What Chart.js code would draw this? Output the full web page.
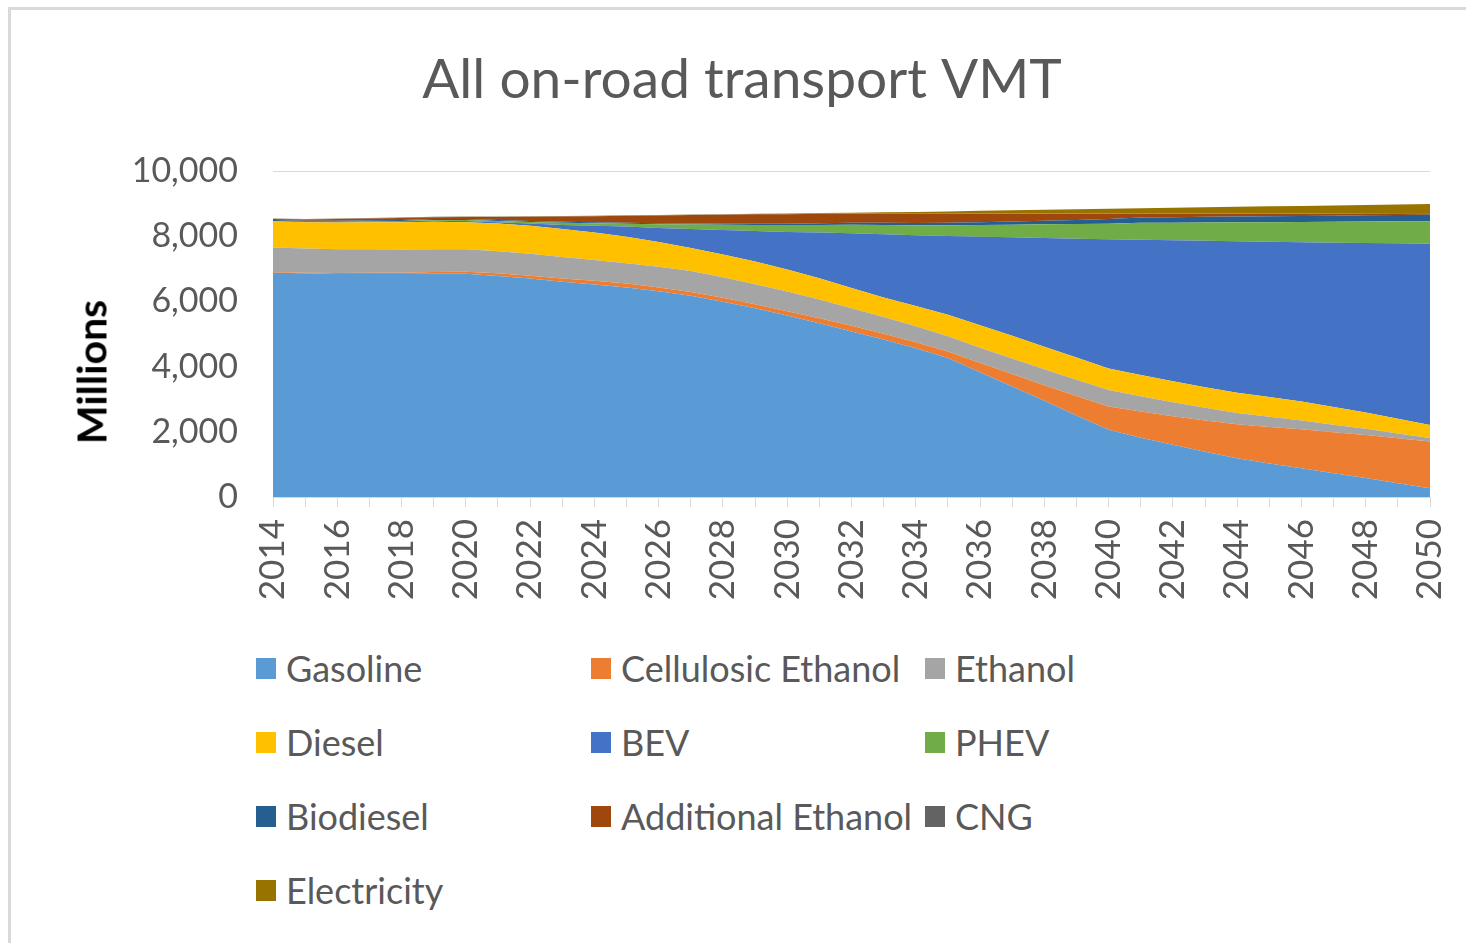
<!DOCTYPE html>
<html lang="en">

<head>
    <meta charset="UTF-8">
    <title>All on-road transport VMT</title>
    <style>
        body {
            margin: 0;
            background-color: #ffffff;
            font-family: Lato, sans-serif;
            width: 1466px;
            height: 943px;
            overflow: hidden;
            position: relative;
        }

        .frame {
            position: absolute;
            left: 8px;
            top: 7px;
            width: 1500px;
            height: 1000px;
            border-top: 3px solid #d9d9d9;
            border-left: 3px solid #d9d9d9;
        }

        .chart-box {
            position: absolute;
            left: 0;
            top: 0;
            width: 1466px;
            height: 620px;
        }

        .y-title {
            position: absolute;
            left: 91px;
            top: 372px;
            transform: translate(-50%, -50%) rotate(-90deg);
            font-size: 41px;
            font-weight: bold;
            color: #000000;
            white-space: nowrap;
        }

        .legend-item {
            position: absolute;
            height: 40px;
            display: flex;
            align-items: center;
            font-size: 36px;
            color: #595959;
            white-space: nowrap;
        }

        .legend-item span.swatch {
            display: inline-block;
            width: 20px;
            height: 21px;
            margin-right: 10px;
        }
    </style>
</head>

<body>
    <div class="frame"></div>
    <div class="chart-box">
        <canvas id="vmtChart"></canvas>
    </div>
    <div class="y-title">Millions</div>
    <div id="legend"></div>

    <script src="https://cdn.jsdelivr.net/npm/chart.js"></script>
    <script>
// years on the x axis
const years = ['2014', '2015', '2016', '2017', '2018', '2019', '2020', '2021', '2022', '2023',
    '2024', '2025', '2026', '2027', '2028', '2029', '2030', '2031', '2032', '2033',
    '2034', '2035', '2036', '2037', '2038', '2039', '2040', '2041', '2042', '2043',
    '2044', '2045', '2046', '2047', '2048', '2049', '2050'];

// VMT, millions
const gasoline = [6880, 6860, 6840, 6840, 6840, 6850, 6850, 6780, 6700, 6600,
    6520, 6430, 6310, 6170, 5990, 5790, 5570, 5330, 5080, 4830,
    4560, 4260, 3830, 3390, 2950, 2500, 2060, 1820, 1600, 1390,
    1190, 1030, 880, 730, 580, 420, 270];
const cellulosicEthanol = [20, 20, 30, 40, 40, 50, 60, 80, 90, 100,
    110, 120, 120, 120, 120, 120, 130, 150, 170, 180,
    190, 200, 280, 380, 480, 600, 715, 800, 880, 960,
    1040, 1120, 1200, 1260, 1320, 1380, 1430];
const ethanol = [750, 740, 730, 720, 710, 700, 690, 680, 670, 660,
    640, 620, 630, 640, 630, 615, 600, 580, 540, 510,
    490, 470, 470, 480, 490, 500, 510, 470, 430, 390,
    350, 310, 270, 230, 190, 150, 110];
const diesel = [800, 810, 820, 830, 840, 845, 830, 850, 860, 860,
    840, 815, 760, 710, 700, 700, 680, 650, 620, 600,
    620, 660, 690, 700, 690, 680, 660, 650, 640, 630,
    620, 610, 580, 540, 500, 450, 400];
const bev = [10, 10, 15, 20, 25, 30, 40, 40, 70, 120,
    210, 310, 435, 580, 750, 935, 1150, 1400, 1680, 1940,
    2170, 2415, 2715, 3015, 3335, 3645, 3960, 4150, 4325, 4490,
    4645, 4760, 4885, 5040, 5200, 5380, 5560];
const phev = [5, 5, 10, 10, 15, 20, 25, 35, 45, 70,
    75, 85, 110, 140, 160, 185, 210, 235, 260, 285,
    305, 330, 360, 390, 420, 450, 480, 520, 540, 560,
    580, 600, 620, 640, 660, 675, 690];
const biodiesel = [30, 30, 30, 30, 30, 30, 30, 30, 30, 30,
    30, 30, 30, 30, 30, 35, 40, 50, 60, 65,
    70, 75, 80, 95, 110, 125, 140, 160, 170, 175,
    180, 185, 185, 190, 190, 195, 195];
const additionalEthanol = [30, 40, 50, 55, 60, 60, 65, 95, 130, 165,
    190, 215, 240, 260, 275, 290, 295, 290, 280, 285,
    290, 285, 265, 235, 210, 185, 160, 115, 100, 95,
    85, 80, 70, 65, 60, 55, 50];
const cng = [10, 10, 10, 10, 10, 10, 10, 10, 10, 10,
    10, 10, 10, 10, 10, 10, 10, 10, 10, 10,
    10, 10, 10, 10, 10, 10, 10, 10, 10, 10,
    10, 10, 10, 10, 10, 10, 10];
const electricity = [5, 5, 5, 5, 5, 5, 5, 5, 5, 5,
    5, 5, 5, 5, 5, 5, 10, 15, 20, 30,
    40, 55, 80, 100, 115, 130, 145, 165, 180, 190,
    200, 215, 225, 240, 250, 260, 275];

const seriesNames = ['Gasoline', 'Cellulosic Ethanol', 'Ethanol', 'Diesel', 'BEV',
    'PHEV', 'Biodiesel', 'Additional Ethanol', 'CNG', 'Electricity'];
const seriesValues = [gasoline, cellulosicEthanol, ethanol, diesel, bev,
    phev, biodiesel, additionalEthanol, cng, electricity];
const seriesColors = ['#5b9bd5', '#ed7d31', '#a5a5a5', '#ffc000', '#4472c4',
    '#70ad47', '#255e91', '#9e480e', '#636363', '#997300'];

const yTicks = [0, 2000, 4000, 6000, 8000, 10000];

const FONT = 'Lato, sans-serif';
const TEXT_GREY = '#595959';
const LINE_GREY = '#d9d9d9';

const CHART_H = 620;
const PAD_LEFT = 54;     // keeps the title centred where the original has it
const PLOT_LEFT = 273;
const PLOT_BOTTOM = 497;

const datasets = seriesNames.map((name, i) => ({
    label: name,
    data: seriesValues[i],
    backgroundColor: seriesColors[i],
    borderColor: seriesColors[i],
    borderWidth: 0,
    pointRadius: 0,
    pointHoverRadius: 0,
    tension: 0,
    fill: i === 0 ? 'origin' : '-1'
}));

const ctx = document.getElementById('vmtChart').getContext('2d');
new Chart(ctx, {
    type: 'line',
    data: { labels: years, datasets: datasets },
    options: {
        responsive: true,
        maintainAspectRatio: false,
        animation: false,
        layout: { padding: { left: PAD_LEFT, right: 36, top: 0, bottom: 0 } },
        plugins: {
            legend: { display: false },
            tooltip: { enabled: false },
            title: {
                display: true,
                text: 'All on-road transport VMT',
                color: TEXT_GREY,
                font: { family: FONT, size: 55, weight: 'normal', lineHeight: 1.2 },
                padding: { top: 47, bottom: 58 }
            }
        },
        scales: {
            x: {
                stacked: true,
                offset: false,
                grid: {
                    drawOnChartArea: false,
                    drawTicks: true,
                    tickLength: 10,
                    color: LINE_GREY
                },
                border: { display: true, color: LINE_GREY },
                ticks: {
                    autoSkip: false,
                    maxRotation: 90,
                    minRotation: 90,
                    padding: 12,
                    color: TEXT_GREY,
                    font: { family: FONT, size: 35 },
                    // label every second year, tick mark every year
                    callback: function (val, idx) {
                        return idx % 2 === 0 ? years[idx] : '';
                    }
                },
                afterFit: function (scale) {
                    scale.height = CHART_H - PLOT_BOTTOM;
                    scale.paddingLeft = 0;
                    scale.paddingRight = 0;
                }
            },
            y: {
                stacked: true,
                min: 0,
                max: 10000,
                grid: { color: LINE_GREY, drawTicks: false },
                border: { display: false },
                afterBuildTicks: function (scale) {
                    scale.ticks = yTicks.map(v => ({ value: v }));
                },
                ticks: {
                    padding: 35,
                    color: TEXT_GREY,
                    font: { family: FONT, size: 34 },
                    callback: v => v.toLocaleString('en-US')
                },
                afterFit: function (scale) {
                    scale.width = PLOT_LEFT - PAD_LEFT;
                }
            }
        }
    }
});

// legend, 3 columns like the original
const legendEl = document.getElementById('legend');
const colLeft = [256, 591, 925];
seriesNames.forEach((name, i) => {
    const item = document.createElement('div');
    item.className = 'legend-item';
    item.style.left = colLeft[i % 3] + 'px';
    item.style.top = (668 + 74 * Math.floor(i / 3) - 20) + 'px';
    const sw = document.createElement('span');
    sw.className = 'swatch';
    sw.style.backgroundColor = seriesColors[i];
    item.appendChild(sw);
    item.appendChild(document.createTextNode(name));
    legendEl.appendChild(item);
});
    </script>

</body>

</html>
